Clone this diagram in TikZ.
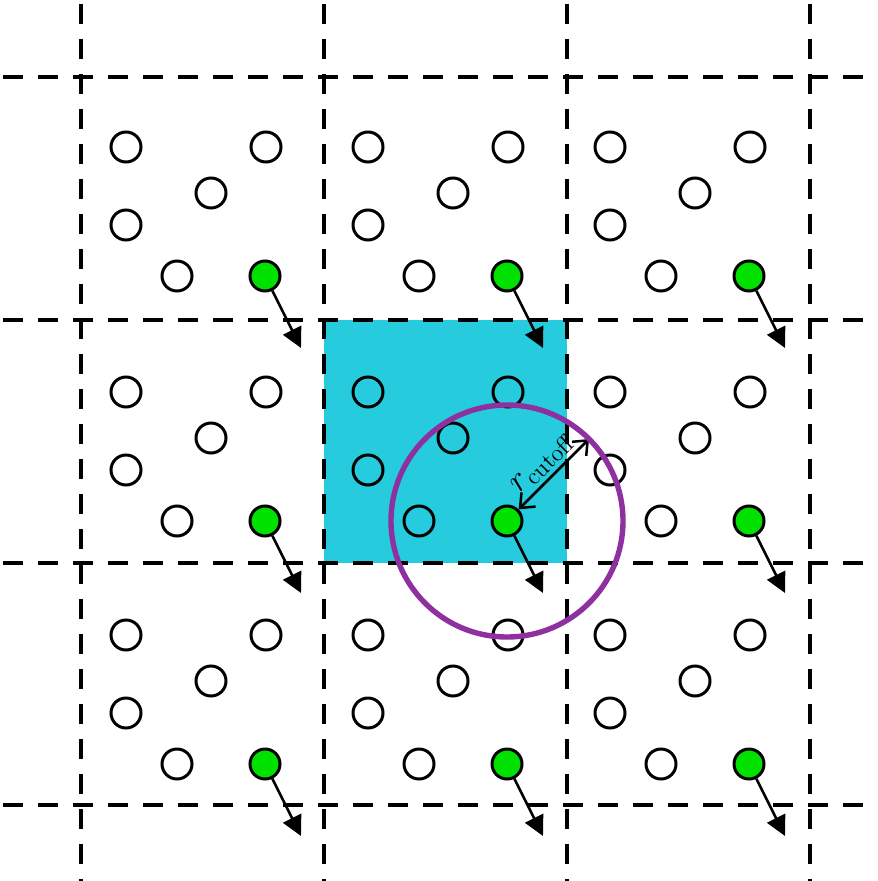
\documentclass[tikz,border=0pt]{standalone}
\usetikzlibrary{arrows.meta,calc}
\definecolor{cellcyan}{RGB}{38,204,222}
\definecolor{cutpurple}{RGB}{142,48,160}
\definecolor{partgreen}{RGB}{0,225,0}
\begin{document}
\begin{tikzpicture}[x=0.5pt,y=-0.5pt,
  gridline/.style={line width=2.4pt, dash pattern=on 10pt off 7.5pt},
  particle/.style={circle, draw, line width=1.5pt, minimum size=15pt, inner sep=0pt},
  active/.style={particle, fill=partgreen},
  force/.style={line width=1.3pt, -{Triangle[length=10pt,width=10pt]}},
  cutoff/.style={draw=cutpurple, line width=2.7pt},
  radiusarrow/.style={line width=1.25pt, {Straight Barb[length=6pt,width=10pt]}-{Straight Barb[length=6pt,width=10pt]}}
]
\useasboundingbox (0,0) rectangle (877,881);
% central cell
\fill[cellcyan] (324,320) rectangle (567,563);
% grid
\foreach \gx in {81,324,567,810} \draw[gridline] (\gx,4) -- (\gx,881);
\foreach \gy in {77,320,563,805} \draw[gridline] (3,\gy) -- (877,\gy);
% particles
\foreach \i/\px in {0/265,1/507,2/749} {
  \foreach \j/\py in {0/276,1/521,2/764} {
    \node[particle] (a\i\j) at (\px-139,\py-129) {};
    \node[particle] (b\i\j) at (\px+1,\py-129) {};
    \node[particle] (c\i\j) at (\px-54,\py-83) {};
    \node[particle] (d\i\j) at (\px-139,\py-51) {};
    \node[particle] (e\i\j) at (\px-88,\py) {};
    \node[active] (g\i\j) at (\px,\py) {};
    \coordinate (t\i\j) at (\px+36,\py+72);
    \draw[force] (g\i\j) -- (t\i\j);
  }
}
% cutoff sphere
\coordinate (rend) at ($(g11.center)+(82,-82)$);
\draw[radiusarrow] (g11.45) -- (rend)
  node[midway, sloped, above, inner sep=2pt, font=\LARGE] {$r_{\mathrm{cutoff}}$};
\draw[cutoff] (g11.center) circle[radius=58pt];
\end{tikzpicture}
\end{document}
